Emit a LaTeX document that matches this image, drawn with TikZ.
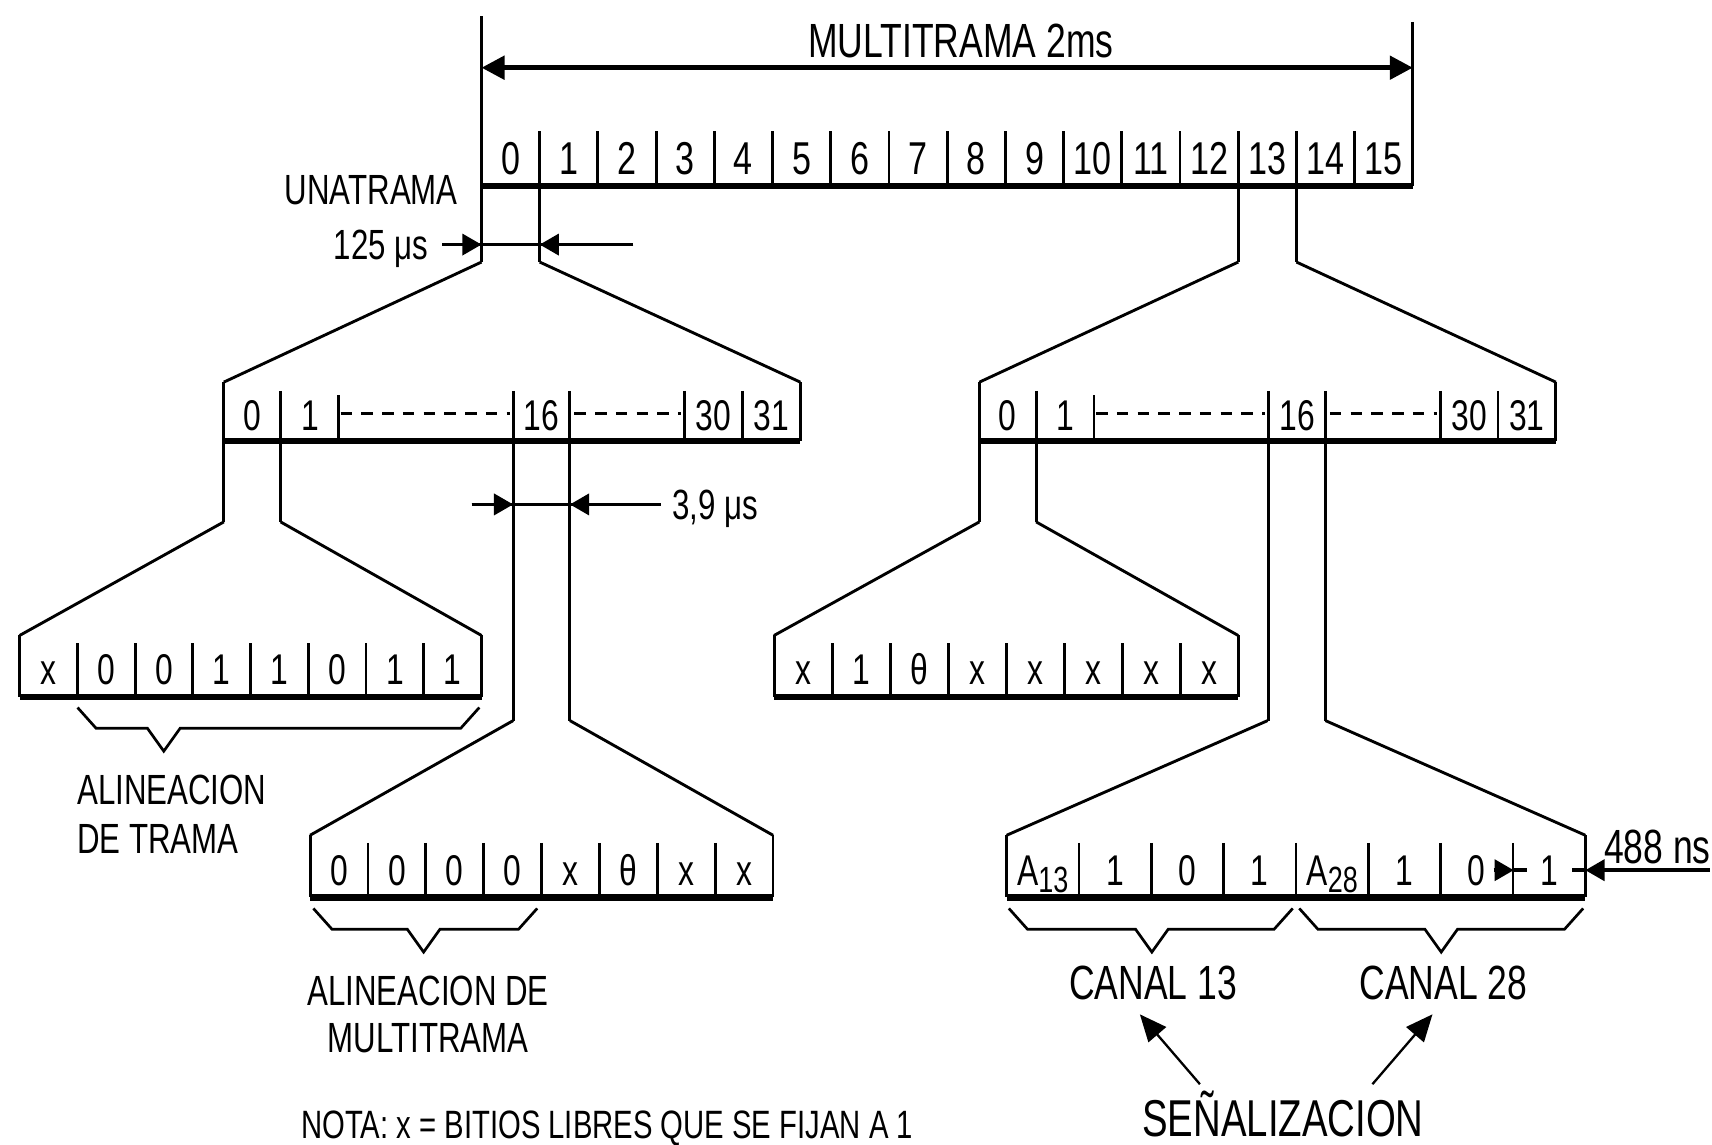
\documentclass[tikz,border=0pt]{standalone}
\usepackage{fontspec}
\setmainfont{Liberation Sans}[FakeStretch=0.74]
\usetikzlibrary{arrows.meta}
\newcommand\sbx[1]{\raisebox{-0.35ex}{\fontsize{9.5}{10}\selectfont #1}}
% timeslot box: #1 left x, #2 name prefix
\newcommand\tsbox[2]{%
 \begin{scope}[shift={(#1,0)}]
  \draw[ln] (0,350) -- (0,478);
  \draw[ln] (528,350) -- (528,404);
  \foreach \d in {52,265,317,422,475} \draw[ln] (\d,358) -- (\d,404);
  \draw[ln] (105,362) -- (105,404);
  \draw[ln] (52,404) -- (52,478);
  \draw[ln] (265,404) -- (265,660);
  \draw[ln] (317,404) -- (317,660);
  \draw[base] (0,404) -- (528,404);
  \node[blbl] (#2a) at (26,380) {0};
  \node[blbl] (#2b) at (79,380) {1};
  \node[blbl] (#2c) at (291,380) {16};
  \node[blbl] (#2d) at (448.5,380) {30};
  \node[blbl] (#2e) at (501.5,380) {31};
  \draw[dashfill] (107,379) -- (262,379);
  \draw[dashfill] (321,379) -- (419,379);
 \end{scope}}
% byte box: #1 left, #2 cell width, #3 top, #4 bottom, #5 labels, #6 name prefix
\newcommand\bytebox[6]{%
  \draw[ln] (#1,#3) -- (#1,#4);
  \draw[ln] ({#1+8*#2},#3) -- ({#1+8*#2},#4);
  \foreach \k in {1,...,7} \draw[ln] ({#1+\k*#2},{#3+7}) -- ({#1+\k*#2},#4);
  \foreach \lab [count=\k from 0] in {#5}
    \node[blbl] (#6\k) at ({#1+(\k+0.5)*#2},{(#3+#4)/2+3}) {\lab};
  \draw[base] (#1,#4) -- ({#1+8*#2},#4);
}
% brace: #1 left, #2 right, #3 middle, #4 top y
\newcommand\dbrace[4]{%
  \draw[brc] (#1,#4) -- ({#1+17},{#4+19}) -- ({#3-15},{#4+19}) -- (#3,{#4+40})
    -- ({#3+15},{#4+19}) -- ({#2-17},{#4+19}) -- (#2,#4);}
\begin{document}
\begin{tikzpicture}[x=0.01cm,y=-0.01cm,
  ln/.style={line width=0.75pt},
  base/.style={line width=1.6pt},
  dim/.style={line width=0.9pt},
  lbl/.style={inner sep=0pt,font=\fontsize{12}{12}\selectfont,text height=8.6pt,text depth=0pt},
  blbl/.style={inner sep=0pt,font=\fontsize{11.2}{12}\selectfont,text height=8pt,text depth=0pt},
  txt/.style={inner sep=0pt,font=\fontsize{11}{13}\selectfont,text height=7.9pt,text depth=0pt},
  big/.style={inner sep=0pt,font=\fontsize{12.5}{14}\selectfont,text height=9pt,text depth=0pt},
  dimtip/.style={-{Triangle[length=5pt,width=5.5pt]}},
  brc/.style={line width=0.7pt},
  dashfill/.style={line width=0.8pt,dash pattern=on 3pt off 2.4pt},
  sigarrow/.style={line width=0.6pt,-{Triangle[length=7pt,width=6pt]}}
]
\useasboundingbox (0,0) rectangle (1568,1048);
% ---- multiframe ----
\coordinate (mfTL) at (441,15);
\coordinate (mfBL) at (441,240);
\coordinate (mfTR) at (1294,20);
\coordinate (mfBR) at (1294,170);
\draw[ln] (mfTL) -- (mfBL);
\draw[ln] (mfTR) -- (mfBR);
\coordinate (aL) at (441,62);
\coordinate (aR) at (1294,62);
\draw[line width=1.3pt,{Triangle[length=6pt,width=6pt]}-{Triangle[length=6pt,width=6pt]}] (aL) -- (aR);
\node[big] (mflabel) at (880,37) {MULTITRAMA 2ms};
\foreach \i in {1,...,15} \draw[ln] ({441+\i*53.3125},120) -- ({441+\i*53.3125},170);
\foreach \i in {0,...,15} \node[lbl] (fr\i) at ({441+(\i+0.5)*53.3125},145) {\i};
\draw[base] (441,170) -- (1294,170);
\draw[ln] (494.3,170) -- (494.3,240);
\draw[ln] (1134.1,170) -- (1134.1,240);
\draw[ln] (1187.4,170) -- (1187.4,240);
\node[txt] (una) at (340,173) {UNATRAMA};
\node[txt] (t125) at (349,224) {125 μs};
\draw[dim] (405,224) -- (580,224);
\draw[dim,dimtip] (405,224) -- (441,224);
\draw[dim,dimtip] (580,224) -- (494.3,224);
% ---- fans to timeslot boxes ----
\coordinate (f0a) at (441,240);
\coordinate (f0b) at (494.3,240);
\coordinate (s0L) at (205,350);
\coordinate (s0R) at (733,350);
\draw[ln] (f0a) -- (s0L);
\draw[ln] (f0b) -- (s0R);
\coordinate (f13a) at (1134.1,240);
\coordinate (f13b) at (1187.4,240);
\coordinate (s13L) at (897,350);
\coordinate (s13R) at (1425,350);
\draw[ln] (f13a) -- (s13L);
\draw[ln] (f13b) -- (s13R);
\tsbox{205}{L}
\tsbox{897}{R}
% 3,9 us
\node[txt] (t39) at (655,462) {3,9 μs};
\draw[dim] (432,462) -- (605,462);
\draw[dim,dimtip] (432,462) -- (470,462);
\draw[dim,dimtip] (605,462) -- (522,462);
% ---- byte boxes ----
\draw[ln] (205,478) -- (18,582);
\draw[ln] (257,478) -- (441,582);
\bytebox{18}{52.875}{582}{638}{x,0,0,1,1,0,1,1}{fa}
\draw[ln] (470,660) -- (284,765);
\draw[ln] (522,660) -- (708,765);
\bytebox{284}{53}{765}{822}{0,0,0,0,x,θ,x,x}{ma}
\draw[ln] (897,478) -- (709,582);
\draw[ln] (949,478) -- (1134,582);
\bytebox{709}{53.125}{582}{638}{x,1,θ,x,x,x,x,x}{rb}
\draw[ln] (1161,660) -- (922,765);
\draw[ln] (1214,660) -- (1452,765);
\bytebox{922}{66.25}{765}{822}{{A\sbx{13}},1,0,1,{A\sbx{28}},1,0,1}{sg}
% 488 ns
\node[big] (t488) at (1518,775) {488 ns};
\draw[dim,dimtip] (1368,797) -- (1386.4,797);
\draw[dim] (1386.4,797) -- (1399,797);
\draw[dim] (1440,797) -- (1452,797);
\draw[dim,dimtip] (1566,797) -- (1452,797);
% ---- braces and labels ----
\dbrace{71}{439}{150}{648}
\dbrace{287}{492}{388}{832}
\dbrace{924}{1184}{1055}{832}
\dbrace{1190}{1450}{1320}{832}
\node[txt,anchor=west] (al1) at (70,723) {ALINEACION};
\node[txt,anchor=west] (al2) at (70,768) {DE TRAMA};
\node[txt] (am1) at (392,907) {ALINEACION DE};
\node[txt] (am2) at (392,950) {MULTITRAMA};
\node[txt,font=\fontsize{10.3}{12}\selectfont,text height=7.4pt] (nota) at (556,1030) {NOTA: x = BITIOS LIBRES QUE SE FIJAN A 1};
\node[big] (c13) at (1056,900) {CANAL 13};
\node[big] (c28) at (1322,900) {CANAL 28};
\node[big,font=\fontsize{13.5}{15}\selectfont,text height=9.7pt] (sen) at (1175,1024) {SEÑALIZACION};
\coordinate (s1) at (1099,993);
\coordinate (e1) at (1044,929);
\coordinate (s2) at (1257,993);
\coordinate (e2) at (1312,929);
\draw[sigarrow] (s1) -- (e1);
\draw[sigarrow] (s2) -- (e2);
\end{tikzpicture}
\end{document}
